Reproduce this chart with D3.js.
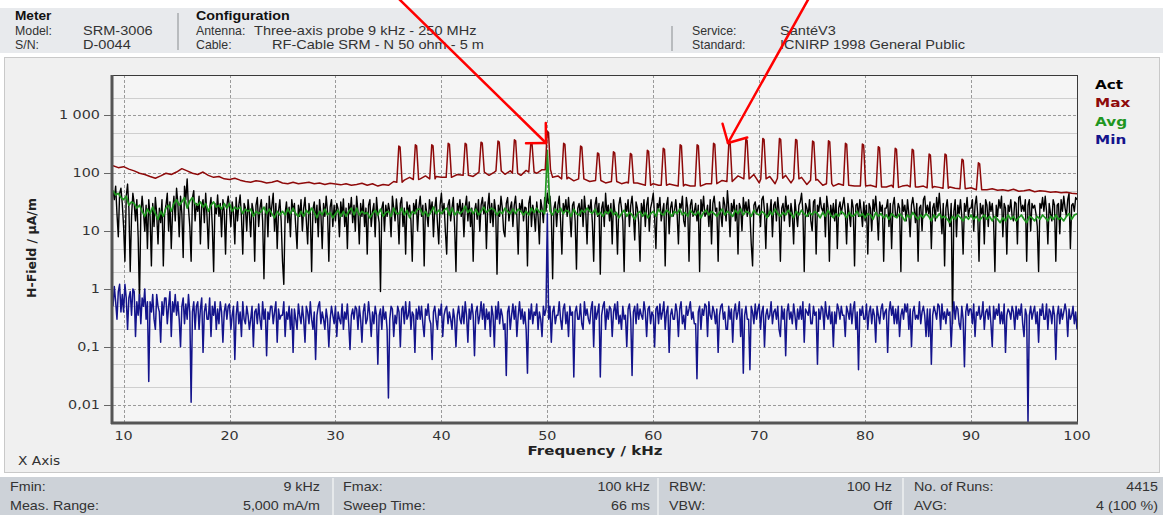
<!DOCTYPE html>
<html><head><meta charset="utf-8">
<script src="https://cdn.jsdelivr.net/npm/d3@7"></script>
<style>html,body{margin:0;padding:0;background:#fff;}svg{display:block;}</style>
</head><body>
<svg id="c" width="1163" height="515"></svg>
<script>
// ---------------- DATA ----------------
const freqStart = 9;
const fineStep = 0.125;      // kHz grid for Act / Min
const avgStep = 0.25;        // kHz grid for Avg
const maxBaseStep = 0.5;     // kHz grid for Max baseline
const xTicks = [10,20,30,40,50,60,70,80,90,100];
const yTicks = [0.01,0.1,1,10,100,1000];
const yTickLabels = ["0,01","0,1","1","10","100","1 000"];
const yMinorGrid = [0.02,0.05,0.2,0.5,2,5,20,50,200,500,2000];
const seriesNames = ["Act","Max","Avg","Min"];

const actValues = [
50,35,60,20,8,45,55,30, 12,3,40,65,25,2,18,45, 30,15,35,8,0.6,20,40,22, 10,28,5,35,18,2.5,30,12, 38,20,6,25,14,35,2.5,20,
28,45,10,32,5,22,40,15, 55,30,8,40,20,3.5,60,35, 80,25,12,3,38,50,15,30, 22,40,6,28,35,14,45,18, 5,25,38,12,2,30,20,42,
18,30,8,35,22,4,28,40, 25,12,32,20,6,38,15,28, 42,18,4,30,25,10,35,20, 8,30,22,3,28,38,12,25, 35,15,1.5,20,30,8,40,18,
28,45,10,30,5,22,35,15, 3,1.2,20,32,14,26,8,35, 22,30,12,5,28,18,35,10, 25,38,15,6,30,20,2,24, 32,14,28,8,35,20,5,30,
18,40,22,3,26,35,12,28, 15,30,24,8,32,18,36,12, 25,5,30,20,38,14,28,10, 40,22,6,30,18,35,12,25, 4,28,35,12,22,30,8,38,
20,14,0.9,25,32,10,28,18, 30,22,8,40,25,15,36,20, 6,30,38,12,25,4,32,20, 28,15,3,30,22,35,10,26, 40,18,28,2.5,30,20,12,35,
22,32,8,25,38,14,6,28, 45,20,30,10,4,28,35,15, 25,38,12,2,30,22,35,18, 30,8,26,40,15,32,12,25, 3,22,30,16,35,10,28,38,
20,32,5,26,45,14,30,12, 35,22,1.8,28,18,40,25,10, 8,30,38,15,25,32,12,28, 40,18,4,30,22,35,15,26, 25,2.5,30,40,12,28,20,10,
32,18,6,35,25,14,38,22, 45,30,40,20,1.5,25,32,12, 28,40,15,4,30,22,35,18, 38,20,8,28,32,15,2.2,25, 30,18,35,12,40,22,6,28,
22,35,14,3,28,38,18,30, 1.8,25,32,12,45,20,28,15, 30,6,35,22,18,4,28,38, 25,15,2,30,22,35,12,28, 40,20,7,32,25,14,3,30,
20,35,12,28,38,10,25,32, 45,18,5,30,25,38,15,22, 30,2.5,28,38,9,25,32,18, 22,35,20,6,30,25,40,15, 12,38,25,3,28,35,18,22,
30,15,28,2,35,22,40,18, 20,28,12,35,6,30,40,22, 25,3,32,20,12,38,28,15, 50,25,8,30,22,35,15,28, 4,30,25,10,38,22,32,18,
35,20,6,2.5,28,32,20,25, 28,12,35,40,22,5,30,18, 20,35,8,28,32,15,38,22, 3,25,30,15,40,22,28,12, 30,20,6,35,20,12,28,32,
45,22,2,30,25,18,35,15, 10,32,35,4,28,22,38,25, 22,30,8,40,25,3,28,18, 30,15,35,5,25,32,20,28, 38,22,6,30,20,12,35,25,
2.5,28,30,18,35,22,12,32, 15,28,4,30,25,10,35,22, 40,20,7,32,22,28,3,25, 25,35,12,30,5,28,38,18, 18,30,25,2,35,22,28,15,
35,20,8,28,38,25,14,30, 3,25,28,10,35,40,20,28, 20,32,5,25,30,15,38,22, 45,22,9,30,2.5,25,35,18, 12,30,0.25,22,35,8,28,20,
35,18,4,30,22,38,18,25, 25,35,10,28,40,20,3,30, 20,28,6,35,28,12,32,22, 30,15,2,28,18,35,25,40, 8,30,25,4,28,22,35,18,
15,32,30,6,38,40,22,28, 22,35,3,28,35,10,30,25, 28,20,12,2,30,25,38,22, 40,22,6,30,20,15,35,28, 3,28,30,9,35,22,40,25,
18,35,45,5,28,30,22,38, 35];

const avgValues = [
50,42,45,38, 35,40,28,32, 30,25,28,22, 18,24,20,26, 20,16,22,18, 25,28,22,30, 35,28,32,38, 25,33,38,30, 28,32,26,30, 22,28,32,26,
28,24,30,25, 30,22,26,24, 26,20,24,22, 24,18,22,20, 22,26,20,24, 20,17,22,19, 22,19,24,20, 25,20,18,22, 18,23,20,25, 21,17,22,19,
24,19,21,17, 20,23,18,22, 18,22,25,19, 25,19,22,20, 21,17,20,23, 19,24,18,21, 22,18,25,20, 20,25,19,23, 17,22,20,24, 24,19,22,18,
21,26,20,23, 20,23,25,19, 25,19,22,20, 22,27,21,24, 20,24,19,22, 26,21,23,25, 23,19,22,20, 25,22,20,24, 20,24,22,19, 22,19,25,21,
25,21,23,20, 250,22,19,24, 21,25,20,23, 22,18,24,20, 19,23,21,25, 22,20,24,19, 21,18,22,20, 24,19,21,17, 20,23,18,21, 19,16,20,22,
18,21,17,20, 22,18,24,20, 19,23,21,18, 22,20,24,19, 21,18,23,20, 19,22,17,21, 23,19,22,20, 18,21,24,19, 22,20,18,23, 20,24,19,22,
21,18,23,20, 19,22,20,17, 22,19,24,20, 18,21,19,23, 20,17,22,19, 23,20,18,21, 19,22,20,17, 21,18,23,19, 17,20,18,22, 20,17,21,18,
19,22,18,20, 17,20,19,16, 21,18,20,17, 19,16,20,18, 17,20,18,15, 19,17,21,18, 16,19,17,20, 18,15,19,17, 20,17,18,16, 14,18,16,19,
17,15,18,16, 19,16,18,15, 17,19,16,18, 15,18,16,14, 17,15,19,16, 18,15,17,19, 16,14,18,17, 15,18,16,19, 17,15,18,16, 19,16,17,15,
18,20,16,19, 20];

const minValues = [
0.5,1.1,0.6,0.3,0.9,1.2,0.4,0.8, 0.4,1.2,0.7,0.2,0.7,0.9,0.35,1.0, 0.9,0.15,0.6,0.35,0.8,0.25,0.7,0.5, 1.0,0.3,0.6,0.025,0.6,0.4,0.8,0.3,
0.2,0.8,0.5,0.4,0.12,0.6,0.35,0.7, 0.7,0.25,0.5,0.9,0.15,0.6,0.4,0.8, 0.35,0.6,0.3,0.1,0.5,0.7,0.25,0.55, 0.3,0.8,0.4,0.011,0.4,0.6,0.2,0.5,
0.6,0.2,0.45,0.7,0.08,0.4,0.55,0.3, 0.3,0.7,0.15,0.5,0.35,0.6,0.2,0.45, 0.25,0.6,0.4,0.12,0.4,0.55,0.3,0.5, 0.55,0.2,0.35,0.5,0.06,0.35,0.6,0.25,
0.4,0.15,0.6,0.3,0.25,0.5,0.35,0.2, 0.3,0.5,0.1,0.4,0.45,0.25,0.55,0.3, 0.2,0.6,0.3,0.45,0.07,0.4,0.3,0.5, 0.5,0.25,0.4,0.6,0.12,0.45,0.3,0.35,
0.35,0.6,0.15,0.4,0.3,0.5,0.2,0.45, 0.08,0.45,0.3,0.2,0.55,0.35,0.25,0.5, 0.3,0.12,0.5,0.4,0.25,0.6,0.3,0.2, 0.4,0.06,0.35,0.5,0.6,0.25,0.4,0.3,
0.2,0.45,0.3,0.1,0.3,0.5,0.35,0.25, 0.5,0.15,0.4,0.3,0.25,0.55,0.2,0.4, 0.3,0.55,0.25,0.09,0.35,0.45,0.3,0.5, 0.45,0.2,0.5,0.3,0.12,0.4,0.55,0.25,
0.3,0.6,0.35,0.15,0.4,0.25,0.5,0.35, 0.05,0.35,0.45,0.2,0.5,0.3,0.4,0.2, 0.013,0.3,0.5,0.45,0.15,0.35,0.25,0.5, 0.4,0.1,0.45,0.5,0.25,0.6,0.3,0.35,
0.6,0.2,0.4,0.35,0.08,0.45,0.3,0.5, 0.3,0.5,0.25,0.15,0.45,0.35,0.55,0.3, 0.25,0.06,0.4,0.5,0.3,0.2,0.45,0.35, 0.55,0.15,0.35,0.45,0.5,0.25,0.4,0.3,
0.2,0.45,0.3,0.1,0.35,0.5,0.3,0.25, 0.5,0.25,0.6,0.35,0.12,0.45,0.3,0.55, 0.35,0.07,0.4,0.5,0.25,0.35,0.6,0.3, 0.55,0.2,0.45,0.3,0.4,0.15,0.5,0.35,
0.1,0.5,0.3,0.6,0.25,0.45,0.35,0.2, 0.25,0.032,0.4,0.5,0.2,0.35,0.55,0.3, 0.5,0.15,0.35,0.6,0.3,0.45,0.25,0.4, 0.2,0.035,0.45,0.3,0.55,0.25,0.4,0.35,
0.55,0.2,0.4,0.3,0.15,0.5,0.35,0.45, 20,0.3,0.5,0.12,0.4,0.5,0.25,0.35, 0.35,0.6,0.3,0.2,0.45,0.55,0.25,0.4, 0.15,0.5,0.35,0.4,0.03,0.4,0.5,0.3,
0.3,0.55,0.25,0.2,0.6,0.35,0.45,0.3, 0.25,0.45,0.6,0.1,0.5,0.3,0.4,0.55, 0.03,0.35,0.5,0.6,0.2,0.45,0.3,0.5, 0.45,0.15,0.4,0.55,0.3,0.6,0.25,0.35,
0.2,0.5,0.3,0.35,0.1,0.45,0.55,0.3, 0.032,0.4,0.5,0.25,0.55,0.3,0.45,0.35, 0.3,0.6,0.4,0.15,0.45,0.5,0.25,0.4, 0.35,0.1,0.45,0.5,0.25,0.55,0.3,0.4,
0.6,0.2,0.4,0.5,0.08,0.35,0.45,0.3, 0.3,0.55,0.4,0.15,0.45,0.6,0.25,0.35, 0.2,0.5,0.35,0.45,0.6,0.3,0.4,0.25, 0.25,0.028,0.4,0.5,0.2,0.45,0.35,0.55,
0.5,0.15,0.6,0.35,0.3,0.5,0.4,0.25, 0.45,0.08,0.35,0.5,0.55,0.3,0.4,0.2, 0.2,0.5,0.3,0.45,0.12,0.4,0.55,0.3, 0.4,0.6,0.15,0.45,0.035,0.35,0.5,0.3,
0.3,0.04,0.5,0.4,0.25,0.55,0.3,0.45, 0.55,0.2,0.4,0.5,0.1,0.35,0.45,0.3, 0.35,0.6,0.25,0.4,0.45,0.3,0.5,0.2, 0.15,0.5,0.3,0.45,0.07,0.4,0.55,0.3,
0.4,0.25,0.55,0.35,0.2,0.45,0.3,0.5, 0.3,0.6,0.12,0.45,0.4,0.35,0.55,0.25, 0.25,0.5,0.35,0.4,0.05,0.45,0.3,0.5, 0.45,0.2,0.6,0.35,0.3,0.5,0.25,0.4,
0.1,0.4,0.25,0.55,0.45,0.3,0.5,0.35, 0.35,0.15,0.5,0.4,0.3,0.55,0.25,0.45, 0.6,0.2,0.4,0.04,0.45,0.35,0.5,0.3, 0.3,0.55,0.2,0.4,0.5,0.25,0.45,0.35,
0.12,0.5,0.35,0.25,0.45,0.55,0.3,0.4, 0.45,0.08,0.4,0.6,0.35,0.5,0.25,0.45, 0.25,0.5,0.15,0.35,0.45,0.3,0.55,0.4, 0.55,0.2,0.45,0.1,0.4,0.5,0.3,0.35,
0.3,0.6,0.25,0.4,0.5,0.35,0.15,0.45, 0.15,0.45,0.05,0.35,0.5,0.4,0.3,0.55, 0.5,0.2,0.55,0.3,0.4,0.25,0.45,0.35, 0.4,0.1,0.35,0.6,0.3,0.5,0.45,0.25,
0.2,0.5,0.3,0.045,0.4,0.55,0.35,0.45, 0.45,0.25,0.55,0.15,0.4,0.35,0.5,0.3, 0.35,0.6,0.2,0.4,0.45,0.3,0.5,0.25, 0.1,0.5,0.3,0.45,0.35,0.55,0.25,0.4,
0.25,0.55,0.08,0.35,0.45,0.4,0.3,0.5, 0.4,0.2,0.5,0.3,0.45,0.35,0.55,0.25, 0.15,0.45,0.35,0.005,0.35,0.5,0.3,0.4, 0.5,0.25,0.4,0.12,0.45,0.35,0.55,0.3,
0.3,0.55,0.2,0.45,0.4,0.25,0.5,0.35, 0.06,0.35,0.5,0.25,0.45,0.3,0.4,0.55, 0.4,0.15,0.45,0.3,0.35,0.5,0.25,0.4, 0.2];

const maxBaseValues = [
135,125, 130,118, 110,100, 95,88, 82,90, 100,95, 105,120, 110,100, 95,105, 92,85,
88,80, 78,82, 76,72, 70,74, 72,68, 70,74, 68,66, 70,66, 68,70, 66,68,
64,67, 65,63, 66,62, 64,67, 62,66, 60,64, 62,72, 80,76, 85,72, 80,90,
78,88, 85,92, 80,95, 95,100, 88,105, 110,92, 105,115, 96,110, 105,92, 112,100,
100,115, 120,85, 90,78, 85,74, 80,88, 72,82, 78,68, 72,76, 66,70, 62,68,
64,58, 66,62, 58,65, 62,56, 64,60, 56,63, 66,70, 62,75, 80,66, 90,72,
76,95, 68,82, 88,66, 75,92, 68,80, 85,64, 72,78, 62,70, 60,66, 62,56,
60,63, 58,62, 60,56, 58,62, 57,60, 62,56, 58,60, 55,59, 57,54, 58,55,
54,57, 56,53, 55,52, 54,51, 52,50, 53,49, 50,52, 48,50, 49,47, 48,46,
47,45, 44];
const maxPeakFreq = [36.04,37.6,39.15,40.7,42.3,43.8,45.4,46.95,48.5,50.05,51.6,53.2,54.8,56.3,57.9,59.5,61.0,62.6,64.2,65.75,
  67.2,68.8,70.4,71.97,73.5,75.1,76.6,78.2,79.8,81.3,82.9,84.5,86.1,87.6,89.2,90.75];
const maxPeakValues = [295,310,310,330,330,345,360,380,330,530,330,295,225,235,220,250,270,310,310,330,
  350,385,400,400,385,360,365,330,320,288,270,260,215,215,175,152];
const maxPeakFoot = [70,78,80,85,92,105,110,100,105,115,80,80,75,72,68,62,62,60,60,66,
  72,80,80,82,80,76,66,62,60,58,57,58,56,55,54,52];

// ---------------- LAYOUT ----------------
const W = 1163, H = 515;
const plot = {l:113, r:1077, t:75, b:422};
const colors = {Act:"#000000", Max:"#8e0a0a", Avg:"#1f961f", Min:"#14148c"};

const svg = d3.select("#c");
const x = d3.scaleLinear().domain([9,100]).range([plot.l, plot.r]);
const y = d3.scaleLog().domain([0.005,5000]).range([plot.b, plot.t]);

function txt(parent, px, py, s, o) {
  o = o || {};
  const g = parent.append("g").attr("transform", `translate(${px},${py}) scale(${o.sx||1},1)`);
  return g.append("text").text(s)
    .attr("font-family", o.family || "'Liberation Sans', Arial, sans-serif")
    .attr("font-size", o.size || 13)
    .attr("font-weight", o.weight || "normal")
    .attr("fill", o.fill || "#222")
    .attr("text-anchor", o.anchor || "start")
    .attr("dominant-baseline", "middle");
}

// header band
svg.append("rect").attr("x",0).attr("y",0).attr("width",W).attr("height",H).attr("fill","#fff");
svg.append("rect").attr("x",0).attr("y",8).attr("width",W).attr("height",45).attr("fill","#e8eaed");
const hv = {sx:1.12,fill:"#333"}, hl = {sx:0.95,fill:"#333"};
txt(svg,15,17,"Meter",{weight:"bold",sx:1.05,fill:"#111"});
txt(svg,15,32,"Model:",hl);
txt(svg,83,32,"SRM-3006",hv);
txt(svg,15,46,"S/N:",hl);
txt(svg,83,46,"D-0044",hv);
svg.append("line").attr("x1",178).attr("x2",178).attr("y1",13).attr("y2",50).attr("stroke","#a9abae").attr("stroke-width",1.5);
txt(svg,196,17,"Configuration",{weight:"bold",sx:1.1,fill:"#111"});
txt(svg,196,32,"Antenna:",hl);
txt(svg,254,32,"Three-axis probe 9 kHz - 250 MHz",hv);
txt(svg,196,46,"Cable:",hl);
txt(svg,272,46,"RF-Cable SRM - N 50 ohm - 5 m",hv);
svg.append("line").attr("x1",672).attr("x2",672).attr("y1",26).attr("y2",51).attr("stroke","#a9abae").attr("stroke-width",1.5);
txt(svg,692,32,"Service:",hl);
txt(svg,780,32,"SantéV3",hv);
txt(svg,692,46,"Standard:",hl);
txt(svg,780,46,"ICNIRP 1998 General Public",hv);

// chart panel
svg.append("rect").attr("x",4.5).attr("y",57.5).attr("width",1155).attr("height",415)
  .attr("fill","#f0f0f0").attr("stroke","#c9c9c9");
svg.append("rect").attr("x",plot.l).attr("y",plot.t).attr("width",plot.r-plot.l).attr("height",plot.b-plot.t)
  .attr("fill","#f5f5f5");

// grids
const gg = svg.append("g");
gg.selectAll("line.minor").data(yMinorGrid).join("line")
  .attr("x1",plot.l).attr("x2",plot.r).attr("y1",d=>Math.round(y(d))+0.5).attr("y2",d=>Math.round(y(d))+0.5)
  .attr("stroke","#cfcfcf").attr("stroke-width",1);
gg.selectAll("line.major").data(yTicks).join("line")
  .attr("x1",plot.l).attr("x2",plot.r).attr("y1",d=>Math.round(y(d))+0.5).attr("y2",d=>Math.round(y(d))+0.5)
  .attr("stroke","#9a9a9a").attr("stroke-width",1).attr("stroke-dasharray","3,2");
svg.append("g").selectAll("line").data(xTicks).join("line")
  .attr("x1",d=>Math.round(x(d))+0.5).attr("x2",d=>Math.round(x(d))+0.5).attr("y1",plot.t).attr("y2",plot.b)
  .attr("stroke","#9a9a9a").attr("stroke-width",1).attr("stroke-dasharray","3,2");

// series
svg.append("clipPath").attr("id","pc").append("rect")
  .attr("x",plot.l).attr("y",plot.t).attr("width",plot.r-plot.l).attr("height",plot.b-plot.t);
const line = d3.line().x(d=>x(d[0])).y(d=>y(d[1]));
const toPts = (vals, start, step) => vals.map((v,i)=>[start+i*step, v]);
const actPts = toPts(actValues, freqStart, fineStep);
const avgPts = toPts(avgValues, freqStart, avgStep);
const minPts = toPts(minValues, freqStart, fineStep);
let maxPts = toPts(maxBaseValues, freqStart, maxBaseStep)
  .filter(p => !maxPeakFreq.some(f => Math.abs(f-p[0]) < 0.3));
maxPeakFreq.forEach((f,i)=>{
  maxPts.push([f-0.25, maxPeakFoot[i]], [f-0.06, maxPeakValues[i]], [f+0.06, maxPeakValues[i]*0.96], [f+0.25, maxPeakFoot[i]]);
});
maxPts.sort((a,b)=>a[0]-b[0]);

const sg = svg.append("g").attr("clip-path","url(#pc)");
const draw = (pts,c,w)=>sg.append("path").datum(pts).attr("d",line).attr("fill","none")
  .attr("stroke",c).attr("stroke-width",w).attr("stroke-linejoin","round");
draw(actPts, colors.Act, 1.4);
draw(minPts, colors.Min, 1.5);
draw(avgPts, colors.Avg, 1.7);
draw(maxPts, colors.Max, 1.5);

// plot frame
svg.append("line").attr("x1",plot.l).attr("x2",plot.r+1).attr("y1",plot.t+0.5).attr("y2",plot.t+0.5).attr("stroke","#3a3a3a");
svg.append("line").attr("x1",plot.r+0.5).attr("x2",plot.r+0.5).attr("y1",plot.t).attr("y2",plot.b).attr("stroke","#3a3a3a");
svg.append("line").attr("x1",plot.l-1).attr("x2",plot.l-1).attr("y1",plot.t).attr("y2",plot.b+2).attr("stroke","#555").attr("stroke-width",3);
svg.append("line").attr("x1",plot.l-2).attr("x2",plot.r+1).attr("y1",plot.b+1).attr("y2",plot.b+1).attr("stroke","#555").attr("stroke-width",3);

// axes (ticks + labels)
const ax = svg.append("g");
yTicks.forEach((v,i)=>{
  const yy = Math.round(y(v))+0.5;
  ax.append("line").attr("x1",104).attr("x2",plot.l-2).attr("y1",yy).attr("y2",yy).attr("stroke","#666");
  txt(ax,100,yy,yTickLabels[i],{family:"'DejaVu Sans', Verdana, sans-serif",size:11.5,anchor:"end",sx:1.25,fill:"#333"});
});
xTicks.forEach(v=>{
  txt(ax,x(v),437,String(v),{family:"'DejaVu Sans', Verdana, sans-serif",size:11.5,anchor:"middle",sx:1.25,fill:"#333"});
});
txt(svg,(plot.l+plot.r)/2,451,"Frequency / kHz",{family:"'DejaVu Sans', Verdana, sans-serif",size:12.5,weight:"bold",anchor:"middle",sx:1.2,fill:"#222"});
svg.append("text").text("H-Field / µA/m")
  .attr("transform","translate(32,248) rotate(-90)")
  .attr("font-family","'DejaVu Sans', Verdana, sans-serif").attr("font-size",12.5).attr("font-weight","bold")
  .attr("text-anchor","middle").attr("dominant-baseline","middle").attr("fill","#222");
txt(svg,18,462,"X Axis",{family:"'DejaVu Sans', Verdana, sans-serif",size:12.5,sx:1.1,fill:"#333"});

// legend
seriesNames.forEach((n,i)=>{
  txt(svg,1095,85+i*18.5,n,{family:"'DejaVu Sans', Verdana, sans-serif",size:12.5,weight:"bold",sx:1.22,fill:colors[n]});
});

// footer
svg.append("rect").attr("x",0).attr("y",477).attr("width",W).attr("height",38).attr("fill","#cdd2d8");
[333,658,903].forEach(xx=>svg.append("line").attr("x1",xx).attr("x2",xx).attr("y1",478).attr("y2",515).attr("stroke","#eef0f2").attr("stroke-width",1.5));
const fs = {sx:1.1,fill:"#333"};
txt(svg,10,488,"Fmin:",fs); txt(svg,320,488,"9 kHz",{...fs,anchor:"end"});
txt(svg,10,507,"Meas. Range:",fs); txt(svg,320,507,"5,000 mA/m",{...fs,anchor:"end"});
txt(svg,343,488,"Fmax:",fs); txt(svg,650,488,"100 kHz",{...fs,anchor:"end"});
txt(svg,343,507,"Sweep Time:",fs); txt(svg,650,507,"66 ms",{...fs,anchor:"end"});
txt(svg,669,488,"RBW:",fs); txt(svg,892,488,"100 Hz",{...fs,anchor:"end"});
txt(svg,669,507,"VBW:",fs); txt(svg,892,507,"Off",{...fs,anchor:"end"});
txt(svg,914,488,"No. of Runs:",fs); txt(svg,1158,488,"4415",{...fs,anchor:"end"});
txt(svg,914,507,"AVG:",fs); txt(svg,1158,507,"4  (100 %)",{...fs,anchor:"end"});

// red annotation arrows
function arrow(x1,y1,x2,y2){
  const g = svg.append("g").attr("stroke","#ff0000").attr("stroke-width",2.5).attr("fill","none").attr("stroke-linecap","round");
  g.append("line").attr("x1",x1).attr("y1",y1).attr("x2",x2).attr("y2",y2);
  const a = Math.atan2(y1-y2, x1-x2), L = 20;
  [a-Math.PI/4, a+Math.PI/4].forEach(b=>{
    g.append("line").attr("x1",x2).attr("y1",y2).attr("x2",x2+L*Math.cos(b)).attr("y2",y2+L*Math.sin(b));
  });
}
arrow(398,-2,546,143);
arrow(809,-2,728,143);
</script>
</body></html>
